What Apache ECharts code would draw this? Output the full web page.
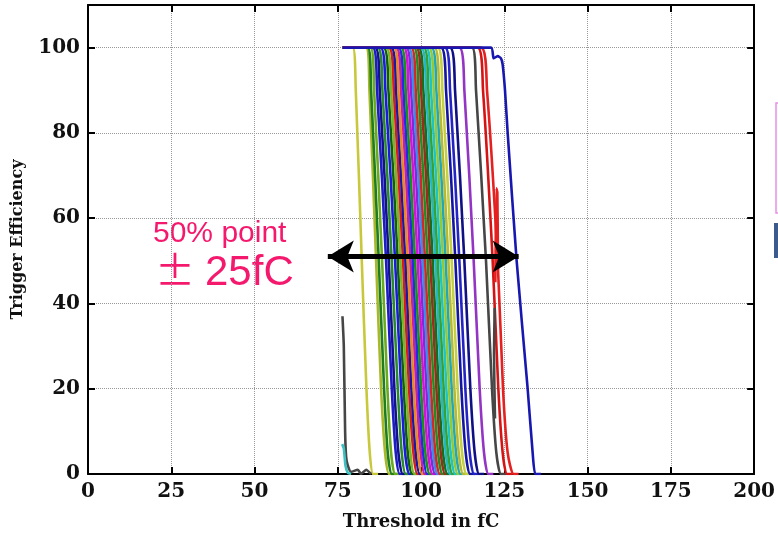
<!DOCTYPE html>
<html><head><meta charset="utf-8">
<script src="https://cdn.jsdelivr.net/npm/echarts@6/dist/echarts.min.js"></script>
<style>html,body{margin:0;padding:0;background:#fff}#c{width:778px;height:536px}</style>
</head><body><div id="c"></div>
<script>
// x ticks / y ticks
const xTicks = [0, 25, 50, 75, 100, 125, 150, 175, 200];
const yTicks = [0, 20, 40, 60, 80, 100];
// efficiency levels at which each curve's threshold is read
const levels = [100, 90, 50, 20, 5, 0];
const scanStart = 76.5;
// threshold (fC) at each level for every channel curve
const curveX = [
 [79.5, 80.4, 82.2, 83.6, 84.6, 85.6],
 [83.5, 84.5, 86.5, 88.0, 89.2, 90.4],
 [84.0, 85.0, 87.3, 88.9, 90.0, 91.2],
 [84.8, 85.9, 88.3, 89.9, 91.0, 92.2],
 [85.5, 86.8, 89.5, 91.2, 92.4, 93.6],
 [86.2, 87.6, 90.3, 92.0, 93.2, 94.5],
 [87.0, 88.4, 91.2, 93.0, 94.2, 95.4],
 [87.8, 89.3, 92.2, 94.0, 95.2, 96.5],
 [88.7, 90.2, 93.0, 94.8, 96.0, 97.3],
 [89.5, 91.0, 93.8, 95.6, 96.8, 98.0],
 [90.3, 91.8, 94.6, 96.4, 97.7, 98.9],
 [91.0, 92.5, 95.3, 97.1, 98.4, 99.6],
 [91.8, 93.2, 96.0, 97.8, 99.1, 100.3],
 [92.5, 94.0, 96.8, 98.6, 99.9, 101.1],
 [93.2, 94.7, 97.5, 99.3, 100.6, 101.8],
 [94.0, 95.4, 98.2, 100.0, 101.3, 102.6],
 [94.8, 96.2, 99.0, 100.8, 102.1, 103.4],
 [95.5, 97.0, 99.8, 101.6, 102.9, 104.2],
 [96.2, 97.7, 100.5, 102.3, 103.6, 104.9],
 [97.0, 98.4, 101.2, 103.0, 104.3, 105.6],
 [97.8, 99.2, 102.0, 103.8, 105.1, 106.4],
 [98.5, 100.0, 102.8, 104.6, 105.9, 107.2],
 [99.2, 100.7, 103.5, 105.3, 106.6, 107.9],
 [100.0, 101.5, 104.3, 106.1, 107.4, 108.7],
 [100.8, 102.2, 105.0, 106.8, 108.1, 109.4],
 [101.5, 103.0, 105.8, 107.6, 108.9, 110.2],
 [102.3, 103.8, 106.6, 108.4, 109.7, 111.0],
 [103.1, 104.6, 107.4, 109.2, 110.5, 111.8],
 [104.0, 105.4, 108.2, 110.0, 111.3, 112.6],
 [105.0, 106.4, 109.2, 111.0, 112.3, 113.6],
 [106.0, 107.5, 110.3, 112.1, 113.4, 114.7],
 [107.2, 108.7, 111.5, 113.3, 114.6, 115.9],
 [108.7, 110.2, 113.0, 114.8, 116.1, 117.4],
 [111.5, 113.0, 115.8, 117.6, 118.9, 120.2],
 [115.3, 116.5, 119.5, 121.3, 122.6, 124.0],
 [117.0, 118.6, 121.5, 123.2, 124.5, 125.8],
 [118.0, 119.8, 123.0, 124.6, 126.0, 127.8]
];
const curveColors = [
 '#c8c83c','#a8b828','#1e7d1e','#6aaa1e','#1c1cc8','#12128c','#2a8a2a','#1a1ae0',
 '#0f5f0f','#7ab428','#d81c1c','#1818a8','#e88a20','#c81ea0','#2828e8','#149414',
 '#d414d4','#8a24d8','#3a8ee8','#d22828','#228c22','#9e2c1c','#1c6c1c','#22b8c8',
 '#36a236','#1cc4c4','#94c834','#22a8b4','#b8b834','#c4d044','#1414a4','#2424c4',
 '#101084','#9434c4','#464646','#d41414','#e42020'
];
// special curves read point by point
const lastBlue = [[76.5,100],[121,100],[121.8,97.5],[123,98],[124,97.5],[124.5,96],[125.2,90],[126,80],[128.7,50],[132,20],[133.5,5],[134.3,0],[136,0]];
const earlyGrey = [[76.4,37],[76.8,30],[77.2,10],[77.5,4],[78,2],[79,0.5],[81,1],[82,0],[83.5,1],[85,0]];
const earlyCyan = [[76.3,7],[76.8,6],[77.3,2],[78,0.3],[79,0]];
const greyPiece = [[122.1,39],[121.9,28],[122.2,13]];
const redSpike = [[122.3,45],[122.6,67],[122.9,66],[123.1,48]];
// arrow annotation
const arrowY = 51, arrowFrom = 72, arrowTo = 129.3;

const series = [];
curveX.forEach((cx, i) => {
  const d = [[scanStart, 100]];
  levels.forEach((lv, j) => d.push([cx[j], lv]));
  d.push([cx[5] + 1.5, 0]);
  series.push({type:'line', data:d, showSymbol:false, smooth:0.25,
    lineStyle:{width:2.6, color:curveColors[i]}, itemStyle:{color:curveColors[i]}, silent:true});
});
const extra = [[lastBlue,'#1818b0'],[earlyGrey,'#464646'],[earlyCyan,'#3cc0c0'],[greyPiece,'#464646'],[redSpike,'#e42020']];
extra.forEach(([d,c]) => series.push({type:'line', data:d, showSymbol:false, smooth:0.2,
  lineStyle:{width:2.6,color:c}, itemStyle:{color:c}, silent:true}));
series.push({type:'line', data:[], silent:true,
  markLine:{silent:true, symbol:['arrow','arrow'], symbolSize:[24,26], label:{show:false},
    lineStyle:{color:'#000', width:5, type:'solid'},
    data:[[{coord:[arrowFrom, arrowY]},{coord:[arrowTo, arrowY]}]]}});

const serif = 'DejaVu Serif';
const chart = echarts.init(document.getElementById('c'), null, {renderer:'canvas'});
chart.setOption({
  animation:false,
  backgroundColor:'#fff',
  grid:{left:88, right:22, top:5, bottom:60},
  xAxis:[{type:'value', min:0, max:200, interval:25, position:'bottom',
    name:'Threshold in fC', nameLocation:'middle', nameGap:39,
    nameTextStyle:{fontFamily:serif, fontWeight:'bold', fontSize:18, color:'#111'},
    axisLine:{show:true, onZero:false, lineStyle:{color:'#000', width:2}},
    axisTick:{show:true, inside:true, length:7, lineStyle:{color:'#000', width:2}},
    axisLabel:{fontFamily:serif, fontWeight:'bold', fontSize:20, color:'#111', margin:8},
    splitLine:{show:true, lineStyle:{color:'#999', type:'dotted', width:1}}},
   {type:'value', min:0, max:200, interval:25, position:'top',
    axisLine:{show:true, onZero:false, lineStyle:{color:'#000', width:2}},
    axisTick:{show:true, inside:true, length:7, lineStyle:{color:'#000', width:2}},
    axisLabel:{show:false}, splitLine:{show:false}}],
  yAxis:[{type:'value', min:0, max:110, interval:20, position:'left',
    name:'Trigger Efficiency', nameLocation:'middle', nameGap:62,
    nameTextStyle:{fontFamily:serif, fontWeight:'bold', fontSize:16, color:'#111'},
    axisLine:{show:true, onZero:false, lineStyle:{color:'#000', width:2}},
    axisTick:{show:true, inside:true, length:7, lineStyle:{color:'#000', width:2}},
    axisLabel:{fontFamily:serif, fontWeight:'bold', fontSize:20, color:'#111', margin:8,
      formatter:v => (v > 100 ? '' : String(v))},
    splitLine:{show:true, lineStyle:{color:'#999', type:'dotted', width:1}}},
   {type:'value', min:0, max:110, interval:20, position:'right',
    axisLine:{show:true, onZero:false, lineStyle:{color:'#000', width:2}},
    axisTick:{show:true, inside:true, length:7, lineStyle:{color:'#000', width:2}},
    axisLabel:{show:false}, splitLine:{show:false}}],
  graphic:[
    {type:'text', left:153, top:219, style:{text:'50% point', fontFamily:'Liberation Sans', fontSize:30, fill:'#f5196e'}},
    {type:'text', left:155, top:250, style:{text:'±', fontFamily:'Noto Sans CJK JP', fontSize:40, fill:'#f5196e'}},
    {type:'text', left:205, top:252, style:{text:'25fC', fontFamily:'Liberation Sans', fontSize:42, fill:'#f5196e'}},
    {type:'rect', shape:{x:776, y:103, width:6, height:110}, style:{fill:'none', stroke:'#e890e8', lineWidth:1.5}},
    {type:'rect', shape:{x:774, y:223, width:6, height:35}, style:{fill:'#3c5a8c'}}
  ],
  series:series
});
</script></body></html>
